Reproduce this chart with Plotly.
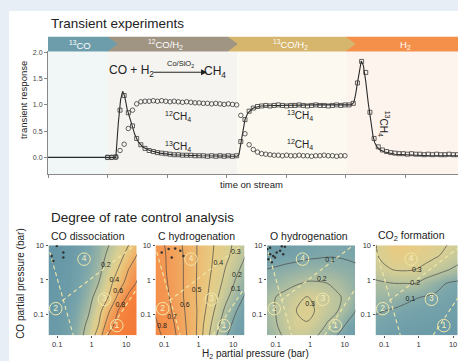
import numpy as np
import plotly.graph_objects as go

W, H = 458, 361
def X(px): return px / W
def Y(py): return 1 - py / H

# ---------------- transient experiment data ----------------
switch_t = [1.0, 3.18, 5.0]          # gas switches (time units)
banner_end = [1.0, 3.02, 5.0]
t_end = 6.89
phase_labels = ["<sup>13</sup>CO", "<sup>12</sup>CO/H<sub>2</sub>", "<sup>13</sup>CO/H<sub>2</sub>", "H<sub>2</sub>"]
phase_label_t = [0.54, 1.97, 4.07, 6.0]

# experimental points, sampled every 0.07 time units from t = 1.0
t13 = np.round(1.0 + 0.07 * np.arange(85), 2)
ch4_13 = [0.0, 0.0, 0.01, 0.9, 1.18, 0.85, 0.6, 0.36, 0.24, 0.17,
          0.13, 0.11, 0.09, 0.08, 0.07, 0.06, 0.05, 0.05, 0.04, 0.04,
          0.04, 0.03, 0.03, 0.03, 0.02, 0.03, 0.02, 0.03, 0.02, 0.03,
          0.02, 0.03, 0.3, 0.72, 0.88, 0.94, 0.97, 0.98,
          0.99, 0.98, 0.99, 1.0, 0.99, 0.98, 0.99, 0.99, 1.0, 0.99,
          0.98, 0.99, 1.0, 0.99, 0.99, 0.98, 0.99, 1.0, 0.99, 1.0,
          1.0, 1.03, 1.42, 1.83, 1.62, 0.86, 0.36, 0.2, 0.14, 0.11,
          0.09, 0.08, 0.07,
          0.07, 0.06, 0.07, 0.06, 0.06, 0.05, 0.06, 0.05, 0.06, 0.05,
          0.05, 0.06, 0.05, 0.05]
t12 = np.round(1.0 + 0.07 * np.arange(58), 2)
ch4_12 = [0.0, 0.0, 0.0, 0.13, 0.25, 0.55, 0.9, 1.02, 1.06, 1.07,
          1.07, 1.08, 1.07, 1.08, 1.07, 1.06, 1.07, 1.06, 1.05, 1.06,
          1.05, 1.04, 1.04, 1.03, 1.03, 1.02, 1.03, 1.02, 1.01, 1.02,
          1.01, 1.0, 0.8, 0.45, 0.24, 0.15, 0.1, 0.07, 0.06, 0.05,
          0.04, 0.04, 0.03, 0.04, 0.03, 0.03, 0.04, 0.03, 0.03, 0.02,
          0.03, 0.03, 0.04, 0.03, 0.03, 0.02, 0.03, 0.03]
# model curve for 13CH4
model_t = [0.0, 1.0, 1.14, 1.18, 1.22, 1.255, 1.29, 1.33, 1.37, 1.41,
           1.46, 1.52, 1.60, 1.71, 1.88, 2.1, 2.55, 3.18, 3.21, 3.24,
           3.28, 3.31, 3.36, 3.45, 3.58, 3.8, 4.5, 5.1, 5.14, 5.17,
           5.20, 5.235, 5.265, 5.30, 5.34, 5.38, 5.41, 5.43, 5.46, 5.49,
           5.53, 5.57, 5.66, 5.83, 6.1, 6.4, 6.89]
model_13 = [0.0, 0.0, 0.0, 0.63, 1.1, 1.26, 1.16, 0.92, 0.75, 0.62,
            0.43, 0.29, 0.19, 0.13, 0.08, 0.05, 0.03, 0.02, 0.06, 0.28,
            0.53, 0.72, 0.85, 0.94, 0.98, 0.99, 1.0, 1.0, 1.05, 1.2,
            1.42, 1.7, 1.84, 1.75, 1.45, 1.05, 0.8, 0.6, 0.42, 0.28,
            0.2, 0.15, 0.1, 0.06, 0.04, 0.03, 0.03]

# ---------------- degree of rate control maps (log10 bar) ----------------
lx_nodes = [-1.3, -1.0, -0.7, -0.4, -0.1, 0.2, 0.5, 0.8, 1.1, 1.4]
ly_nodes = [-1.7, -1.3, -0.9, -0.5, -0.1, 0.3, 0.7, 1.1]
drc_co_diss = [
    [0.02, 0.03, 0.07, 0.14, 0.27, 0.52, 0.85, 0.92, 0.95, 0.97],
    [0.02, 0.03, 0.06, 0.12, 0.23, 0.40, 0.72, 0.89, 0.93, 0.96],
    [0.01, 0.02, 0.05, 0.10, 0.18, 0.33, 0.58, 0.83, 0.91, 0.95],
    [0.01, 0.02, 0.04, 0.08, 0.15, 0.26, 0.41, 0.67, 0.86, 0.93],
    [0.01, 0.02, 0.03, 0.07, 0.12, 0.20, 0.34, 0.52, 0.71, 0.86],
    [0.00, 0.01, 0.03, 0.06, 0.10, 0.16, 0.28, 0.42, 0.62, 0.78],
    [0.00, 0.01, 0.02, 0.05, 0.09, 0.14, 0.23, 0.34, 0.48, 0.66],
    [0.00, 0.01, 0.02, 0.04, 0.08, 0.13, 0.19, 0.28, 0.39, 0.55]]
drc_c_hyd = [
    [0.85, 0.79, 0.72, 0.62, 0.52, 0.35, 0.20, 0.10, 0.05, 0.03],
    [0.82, 0.77, 0.70, 0.61, 0.52, 0.37, 0.24, 0.13, 0.07, 0.04],
    [0.80, 0.75, 0.68, 0.60, 0.52, 0.40, 0.28, 0.17, 0.10, 0.05],
    [0.78, 0.73, 0.67, 0.59, 0.51, 0.42, 0.32, 0.22, 0.14, 0.08],
    [0.77, 0.72, 0.66, 0.59, 0.51, 0.43, 0.35, 0.26, 0.18, 0.11],
    [0.76, 0.71, 0.66, 0.59, 0.51, 0.44, 0.37, 0.29, 0.22, 0.15],
    [0.75, 0.71, 0.65, 0.59, 0.51, 0.45, 0.38, 0.32, 0.26, 0.19],
    [0.74, 0.70, 0.65, 0.58, 0.51, 0.45, 0.39, 0.33, 0.28, 0.22]]
drc_o_hyd = [
    [0.12, 0.17, 0.21, 0.25, 0.24, 0.19, 0.13, 0.08, 0.05, 0.03],
    [0.15, 0.19, 0.25, 0.295, 0.29, 0.25, 0.19, 0.15, 0.08, 0.05],
    [0.17, 0.20, 0.25, 0.30, 0.33, 0.29, 0.24, 0.20, 0.15, 0.08],
    [0.17, 0.20, 0.23, 0.27, 0.305, 0.28, 0.25, 0.21, 0.18, 0.12],
    [0.13, 0.15, 0.17, 0.19, 0.21, 0.21, 0.20, 0.18, 0.15, 0.12],
    [0.10, 0.11, 0.12, 0.13, 0.14, 0.14, 0.14, 0.13, 0.12, 0.11],
    [0.05, 0.06, 0.07, 0.075, 0.085, 0.09, 0.095, 0.095, 0.09, 0.085],
    [0.02, 0.03, 0.04, 0.05, 0.06, 0.07, 0.08, 0.08, 0.08, 0.07]]
drc_co2 = [
    [0.06, 0.05, 0.04, 0.035, 0.03, 0.03, 0.025, 0.02, 0.02, 0.02],
    [0.08, 0.07, 0.06, 0.05, 0.045, 0.04, 0.035, 0.03, 0.03, 0.03],
    [0.11, 0.10, 0.09, 0.08, 0.07, 0.065, 0.06, 0.055, 0.05, 0.045],
    [0.15, 0.15, 0.14, 0.12, 0.105, 0.095, 0.085, 0.075, 0.065, 0.06],
    [0.18, 0.19, 0.20, 0.20, 0.20, 0.16, 0.13, 0.10, 0.085, 0.07],
    [0.25, 0.28, 0.305, 0.31, 0.30, 0.27, 0.24, 0.21, 0.18, 0.16],
    [0.28, 0.33, 0.39, 0.38, 0.36, 0.34, 0.31, 0.28, 0.25, 0.22],
    [0.28, 0.36, 0.43, 0.42, 0.40, 0.37, 0.34, 0.31, 0.28, 0.25]]
panel_titles = ["CO dissociation", "C hydrogenation", "O hydrogenation", "CO<sub>2</sub> formation"]
panel_z = [drc_co_diss, drc_c_hyd, drc_o_hyd, drc_co2]
panel_levels = [(0.2, 0.8, 0.2), (0.1, 0.8, 0.1), (0.1, 0.3, 0.1), (0.1, 0.3, 0.1)]
# contour label positions (log10 pH2, log10 pCO) and texts
clab_x = [[0.41, 0.66, 0.77, 0.83],
          [1.08, 0.57, 1.11, 1.08, -0.06, -0.4, -0.77, -1.06],
          [0.58, 0.34, 0.0],
          [-0.05, -0.1, -0.24]]
clab_y = [[0.41, -0.02, -0.33, -0.73],
          [0.81, 0.49, 0.14, -0.26, -0.31, -0.73, -1.07, -1.35],
          [0.58, 0.01, -0.69],
          [0.29, -0.09, -0.57]]
clab_t = [["0.2", "0.4", "0.6", "0.8"],
          ["0.3", "0.4", "0.2", "0.1", "0.5", "0.6", "0.7", "0.8"],
          ["0.1", "0.2", "0.3"],
          ["0.3", "0.2", "0.1"]]
# regime boundaries (log10 pH2, log10 pCO)
bound_a = ([-1.27, -0.53], [1.0, -1.6])
bound_b = ([-0.85, 1.25], [-0.6, 1.0])
bound_c = ([0.42, 1.35], [-1.6, -0.2])
regime_x = [0.73, -1.04, 0.37, -0.22]
regime_y = [-1.32, -0.83, -0.56, 0.6]
regime_txt = ["1", "2", "3", "4"]
speck_x = [[-0.82, -0.82, -1.01, -1.16, -1.11], [-0.87, -0.68, -0.53, -1.07, -0.44, -0.78],
           [-1.16, -1.07, -1.21, -0.97, -0.87, -0.78, -1.24, -1.11, -1.02, -0.82, -0.73, -1.16], []]
speck_y = [[0.79, 0.65, 0.98, 0.69, 0.55], [0.89, 0.91, 0.84, 0.79, 0.69, 0.65],
           [0.74, 0.69, 0.6, 0.79, 0.84, 0.74, 0.89, 0.51, 0.65, 0.97, 0.96, 0.93], []]

cs = [[0.0, '#6496a6'], [0.08, '#78a4ab'], [0.2, '#b6c29f'], [0.3, '#d8cf94'],
      [0.4, '#e8cc84'], [0.55, '#efb46a'], [0.7, '#f39a55'], [0.85, '#f5853f'], [1.0, '#f47535']]

FONT = "Liberation Sans, Arial, sans-serif"
fig = go.Figure()

# top panel traces
fig.add_trace(go.Scatter(x=model_t, y=model_13, mode='lines', line=dict(color='#2a2a2a', width=1.1),
                         xaxis='x', yaxis='y', hoverinfo='skip'))
fig.add_trace(go.Scatter(x=t13, y=ch4_13, mode='markers',
                         marker=dict(symbol='square-open', size=4, color='#3a3a3a', line=dict(width=0.8)),
                         xaxis='x', yaxis='y'))
fig.add_trace(go.Scatter(x=t12, y=ch4_12, mode='markers',
                         marker=dict(symbol='circle-open', size=4.5, color='#3a3a3a', line=dict(width=0.8)),
                         xaxis='x', yaxis='y'))

panel_px = [(48.5, 137.0), (155.5, 244.5), (267.0, 355.5), (375.5, 458.0)]
PX_PER_DEC = 34.5
layout_axes = {}
for i in range(4):
    ax = i + 2
    xa, ya = f'x{ax}', f'y{ax}'
    s, e, st = panel_levels[i]
    fig.add_trace(go.Contour(
        x=lx_nodes, y=ly_nodes, z=panel_z[i], colorscale=cs, zmin=0, zmax=1, showscale=False,
        autocontour=False,
        contours=dict(coloring='heatmap', start=s, end=e + 1e-6, size=st, showlabels=False),
        line=dict(color='#4a4a4a', width=0.7, smoothing=1.0),
        xaxis=xa, yaxis=ya, hoverinfo='skip'))
    for bx, by in (bound_a, bound_b, bound_c):
        fig.add_trace(go.Scatter(x=bx, y=by, mode='lines', line=dict(color='#f2e8a8', width=1.1, dash='4px,3px'),
                                 xaxis=xa, yaxis=ya, hoverinfo='skip'))
    if speck_x[i]:
        fig.add_trace(go.Scatter(x=speck_x[i], y=speck_y[i], mode='markers',
                                 marker=dict(size=2.5, color='#333'), xaxis=xa, yaxis=ya))
    fig.add_trace(go.Scatter(x=clab_x[i], y=clab_y[i], mode='text', text=clab_t[i],
                             textposition='middle center', textfont=dict(size=7, color='#1e1e1e', family=FONT),
                             xaxis=xa, yaxis=ya, hoverinfo='skip'))
    fig.add_trace(go.Scatter(x=regime_x, y=regime_y, mode='markers+text', text=regime_txt,
                             textposition='middle center',
                             textfont=dict(size=8.5, color='#f6efc0', family=FONT),
                             marker=dict(symbol='circle-open', size=12.5, color='#f2e8a8', line=dict(width=1)),
                             xaxis=xa, yaxis=ya, hoverinfo='skip'))
    x0p, x1p = panel_px[i]
    xr = [-1.25, -1.25 + (x1p - x0p) / PX_PER_DEC]
    layout_axes[f'xaxis{ax}'] = dict(domain=[X(x0p), X(x1p)], range=xr, anchor=ya,
                                     tickvals=[-1, 0, 1], ticktext=['0.1', '1', '10'], ticks='outside',
                                     ticklen=2, tickcolor='#555', tickfont=dict(size=7.5, color='#333'),
                                     showgrid=False, zeroline=False, showline=False)
    layout_axes[f'yaxis{ax}'] = dict(domain=[Y(335), Y(244)], range=[-1.6, 1.0], anchor=xa,
                                     tickvals=[-1, 0, 1], ticktext=['0.1', '1', '10'], ticks='outside',
                                     ticklen=2, tickcolor='#555', tickfont=dict(size=7.5, color='#333'),
                                     showgrid=False, zeroline=False, showline=False)

shapes = [dict(type='rect', xref='paper', yref='paper', x0=X(9), x1=1, y0=0, y1=Y(7),
               fillcolor='white', line=dict(width=0), layer='below')]
shade_cols = ['#f1f6f6', '#f5f4f1', '#fcf9f1', '#fef4ee']
bounds = [0.0] + switch_t + [t_end]
for j in range(4):
    shapes.append(dict(type='rect', xref='x', yref='y domain', x0=bounds[j], x1=bounds[j + 1], y0=0, y1=1,
                       fillcolor=shade_cols[j], line=dict(width=0), layer='below'))
banner_cols = ['#6d9dab', '#a09483', '#d6b56d', '#f5904a']
yb, yt, ym = Y(48), Y(33), Y(40.5)
bstarts = [0.0] + banner_end
bends = banner_end + [t_end]
tip = 0.17
for j in [3, 2, 1, 0]:
    x0, x1 = bstarts[j], bends[j]
    if j < 3:
        path = f"M {x0},{yb} L {x1},{yb} L {x1 + tip},{ym} L {x1},{yt} L {x0},{yt} Z"
    else:
        path = f"M {x0},{yb} L {x1},{yb} L {x1},{yt} L {x0},{yt} Z"
    shapes.append(dict(type='path', xref='x', yref='paper', path=path, fillcolor=banner_cols[j],
                       line=dict(width=0)))

ann = []
def A(text, x, y, size, color='#222', xanchor='center', angle=0, xref='paper'):
    ann.append(dict(text=text, x=x, y=y, xref=xref, yref='paper', showarrow=False, xanchor=xanchor,
                    yanchor='middle', textangle=angle, font=dict(size=size, color=color, family=FONT)))

A("Transient experiments", X(49), Y(20), 13.5, xanchor='left')
A("Degree of rate control analysis", X(49), Y(216), 13.5, xanchor='left')
for lab, tx in zip(phase_labels, phase_label_t):
    A(lab, tx, Y(41), 9.5, color='white', xref='x')
A("transient response", X(24), Y(97), 9.5, angle=-90)
A("time on stream", X(252), Y(183), 9.5)
A("CO + H<sub>2</sub>", X(131), Y(68), 12)
A("Co/SiO<sub>2</sub>", X(180), Y(61), 7.5)
A("CH<sub>4</sub>", X(215), Y(69), 12)
ann.append(dict(text='', x=X(207), y=Y(69), xref='paper', yref='paper', showarrow=True, ax=-55, ay=0,
                arrowhead=2, arrowsize=1.2, arrowwidth=1, arrowcolor='#222'))
A("<sup>12</sup>CH<sub>4</sub>", X(178), Y(114), 10)
A("<sup>13</sup>CH<sub>4</sub>", X(178), Y(144), 10)
A("<sup>13</sup>CH<sub>4</sub>", X(300), Y(113), 10)
A("<sup>12</sup>CH<sub>4</sub>", X(300), Y(142), 10)
A("<sup>13</sup>CH<sub>4</sub>", X(384), Y(121), 10, angle=90)
for i, t in enumerate(panel_titles):
    A(t, X(panel_px[i][0] + 0.5), Y(235), 10.5, xanchor='left')
A("CO partial pressure (bar)", X(21), Y(283), 10, angle=-90)
A("H<sub>2</sub> partial pressure (bar)", X(255), Y(354), 10)

fig.update_layout(
    width=W, height=H, margin=dict(l=0, r=0, t=0, b=0),
    paper_bgcolor='#e7eef6', plot_bgcolor='rgba(0,0,0,0)', showlegend=False,
    font=dict(family=FONT, color='#222'),
    xaxis=dict(domain=[X(48), 1], range=[0, t_end], tickvals=[0, 1, 2, 3, 4, 5, 6], showticklabels=False,
               ticks='outside', ticklen=3, tickcolor='#888', showline=True, linecolor='#888', linewidth=1,
               showgrid=False, zeroline=False, anchor='y'),
    yaxis=dict(domain=[Y(172), Y(48)], range=[-0.32, 2.02], tickvals=[0, 0.5, 1, 1.5, 2],
               ticktext=['0.0', '0.5', '1.0', '1.5', '2.0'], ticks='outside', ticklen=3, tickcolor='#888',
               tickfont=dict(size=7, color='#444'), showline=True, linecolor='#888', linewidth=1,
               showgrid=False, zeroline=False, anchor='x'),
    shapes=shapes, annotations=ann, **layout_axes)

fig.write_html("out.html")
